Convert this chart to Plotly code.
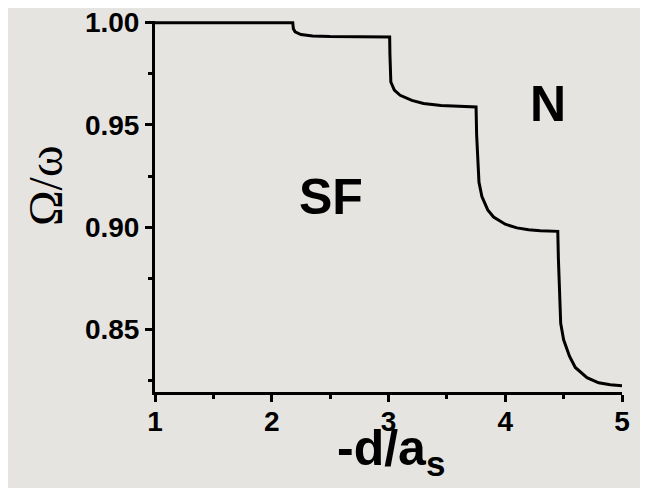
import plotly.graph_objects as go

# Data
d_over_as = [1.0, 2.18, 2.185, 2.2, 2.25, 2.35, 2.5, 3.01,
             3.012, 3.015, 3.02, 3.05, 3.1, 3.2, 3.3, 3.45, 3.6, 3.75,
             3.755, 3.765, 3.775, 3.8, 3.85, 3.9, 4.0, 4.1, 4.2, 4.3, 4.45,
             4.455, 4.465, 4.475, 4.5, 4.55, 4.6, 4.7, 4.8, 4.9, 5.0]
omega_ratio = [1.0, 1.0, 0.997, 0.9955, 0.9942, 0.9935, 0.9932, 0.9930,
               0.985, 0.975, 0.971, 0.967, 0.9645, 0.962, 0.9605, 0.9595, 0.959, 0.9588,
               0.945, 0.930, 0.922, 0.915, 0.9085, 0.905, 0.9015, 0.8997, 0.8988, 0.8983, 0.898,
               0.885, 0.865, 0.853, 0.845, 0.837, 0.8315, 0.8265, 0.824, 0.823, 0.8225]

x_ticks = [1, 2, 3, 4, 5]
x_tick_labels = ["1", "2", "3", "4", "5"]
y_ticks = [0.85, 0.90, 0.95, 1.00]
y_tick_labels = ["0.85", "0.90", "0.95", "1.00"]

bg = "#e6e4e1"
sans = "Liberation Sans, Arial, sans-serif"
tick_font = dict(family=sans, size=28, color="black")

fig = go.Figure()
fig.add_trace(go.Scatter(x=d_over_as, y=omega_ratio, mode="lines",
                         line=dict(color="black", width=3), showlegend=False))

fig.update_layout(
    width=648, height=488,
    paper_bgcolor=bg, plot_bgcolor=bg,
    margin=dict(l=147, r=34, t=13, b=104),
    xaxis=dict(range=[1, 5], tickvals=x_ticks,
               ticktext=["<b>%s</b>" % t for t in x_tick_labels],
               showgrid=False, zeroline=False, showline=True, linecolor="black", linewidth=3,
               ticks="outside", ticklen=7, tickwidth=3, tickcolor="black",
               tickfont=tick_font, automargin=False, ticklabeloverflow="allow",
               ticklabelstandoff=-5,
               minor=dict(dtick=0.5, tick0=1, ticks="outside", ticklen=4, tickwidth=3,
                          tickcolor="black", showgrid=False)),
    yaxis=dict(range=[0.8195, 1.0008], tickvals=y_ticks,
               ticktext=["<b>%s</b>" % t for t in y_tick_labels],
               showgrid=False, zeroline=False, showline=True, linecolor="black", linewidth=3,
               ticks="outside", ticklen=7, tickwidth=3, tickcolor="black",
               tickfont=tick_font, automargin=False, ticklabeloverflow="allow",
               minor=dict(dtick=0.025, tick0=0.825, ticks="outside", ticklen=4, tickwidth=3,
                          tickcolor="black", showgrid=False)),
)

fig.add_annotation(text="<b>-d/a<sub>s</sub></b>", xref="paper", yref="paper",
                   x=0.505, y=-0.16, xanchor="center", yanchor="middle", showarrow=False,
                   font=dict(family=sans, size=50, color="black"))
fig.add_annotation(text="Ω/ω", xref="paper", yref="paper",
                   x=-0.2355, y=0.555, xanchor="center", yanchor="middle", showarrow=False,
                   textangle=-90,
                   font=dict(family="Liberation Serif, Times New Roman, serif", size=48, color="black"))
fig.add_annotation(text="<b>SF</b>", x=2.507, y=0.9148, xanchor="center", yanchor="middle",
                   showarrow=False, font=dict(family=sans, size=50, color="black"))
fig.add_annotation(text="<b>N</b>", x=4.366, y=0.9602, xanchor="center", yanchor="middle",
                   showarrow=False, font=dict(family=sans, size=50, color="black"))

fig.write_html("out.html")
